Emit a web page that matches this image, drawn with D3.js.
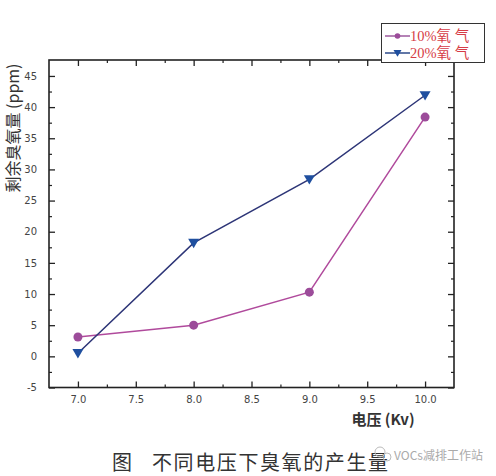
<!DOCTYPE html>
<html><head><meta charset="utf-8">
<script src="https://cdn.jsdelivr.net/npm/d3@7"></script>
<style>body{margin:0;background:#fff}svg{display:block}</style>
</head><body>
<script>
const voltages = [7.0, 8.0, 9.0, 10.0];
const ozone10 = [3.1, 5.0, 10.3, 38.4];
const ozone20 = [0.5, 18.2, 28.4, 41.9];
const seriesNames = ["10%氧 气", "20%氧 气"];
const xTicks = [7.0, 7.5, 8.0, 8.5, 9.0, 9.5, 10.0];
const yTicks = [-5, 0, 5, 10, 15, 20, 25, 30, 35, 40, 45];

const W = 496, H = 476;
const svg = d3.select("body").append("svg").attr("width", W).attr("height", H);
const L = 49, R = 454, T = 60, B = 387.5;
const x = d3.scaleLinear().domain([6.75, 10.25]).range([L, R]);
const y = d3.scaleLinear().domain([-5, 47.56]).range([B, T]);

const axisColor = "#222";
const xMinor = d3.range(7.25, 10.0, 0.5);
const yMinor = d3.range(-2.5, 47, 5);
const g = svg.append("g");
const tickFont = "'DejaVu Sans', Verdana, sans-serif";
g.append("g").attr("transform", `translate(0,${B})`)
  .call(d3.axisBottom(x).tickValues(xTicks).tickFormat(d3.format(".1f")).tickSizeInner(-6).tickSizeOuter(0).tickPadding(8))
  .call(s => { s.select(".domain").remove(); s.selectAll("line").attr("stroke", axisColor).attr("stroke-width", 1.3);
    s.selectAll("text").attr("font-family", tickFont).attr("font-size", 10).attr("fill", "#444"); });
g.append("g").attr("transform", `translate(0,${B})`)
  .call(d3.axisBottom(x).tickValues(xMinor).tickFormat("").tickSizeInner(-3).tickSizeOuter(0))
  .call(s => { s.select(".domain").remove(); s.selectAll("line").attr("stroke", axisColor).attr("stroke-width", 1.2); });
g.append("g").attr("transform", `translate(0,${T})`)
  .call(d3.axisTop(x).tickValues(xTicks).tickFormat("").tickSizeInner(-6).tickSizeOuter(0))
  .call(s => { s.select(".domain").remove(); s.selectAll("line").attr("stroke", axisColor).attr("stroke-width", 1.3); });
g.append("g").attr("transform", `translate(0,${T})`)
  .call(d3.axisTop(x).tickValues(xMinor).tickFormat("").tickSizeInner(-3).tickSizeOuter(0))
  .call(s => { s.select(".domain").remove(); s.selectAll("line").attr("stroke", axisColor).attr("stroke-width", 1.2); });
g.append("g").attr("transform", `translate(${L},0)`)
  .call(d3.axisLeft(y).tickValues(yTicks).tickFormat(d => String(d)).tickSizeInner(-6).tickSizeOuter(0).tickPadding(12))
  .call(s => { s.select(".domain").remove(); s.selectAll("line").attr("stroke", axisColor).attr("stroke-width", 1.3);
    s.selectAll("text").attr("font-family", tickFont).attr("font-size", 10).attr("fill", "#444"); });
g.append("g").attr("transform", `translate(${L},0)`)
  .call(d3.axisLeft(y).tickValues(yMinor).tickFormat("").tickSizeInner(-3).tickSizeOuter(0))
  .call(s => { s.select(".domain").remove(); s.selectAll("line").attr("stroke", axisColor).attr("stroke-width", 1.2); });
g.append("g").attr("transform", `translate(${R},0)`)
  .call(d3.axisRight(y).tickValues(yTicks).tickFormat("").tickSizeInner(-6).tickSizeOuter(0))
  .call(s => { s.select(".domain").remove(); s.selectAll("line").attr("stroke", axisColor).attr("stroke-width", 1.3); });
g.append("g").attr("transform", `translate(${R},0)`)
  .call(d3.axisRight(y).tickValues(yMinor).tickFormat("").tickSizeInner(-3).tickSizeOuter(0))
  .call(s => { s.select(".domain").remove(); s.selectAll("line").attr("stroke", axisColor).attr("stroke-width", 1.2); });
svg.append("rect").attr("x", L).attr("y", T).attr("width", R - L).attr("height", B - T)
  .attr("fill", "none").attr("stroke", axisColor).attr("stroke-width", 1.6);

const series = [
  {name: seriesNames[0], values: ozone10, line: "#b04a9c", legendLine: "#9c5a9e", marker: "#9c4c9a", shape: "circle"},
  {name: seriesNames[1], values: ozone20, line: "#2d3577", legendLine: "#2d4a8a", marker: "#1f4f9f", shape: "tri"}
];
const line = d3.line().x((d, i) => x(voltages[i])).y(d => y(d));
const triPath = (cx, cy, s) => `M${cx - s},${cy - s * 0.75}L${cx + s},${cy - s * 0.75}L${cx},${cy + s * 0.95}Z`;
series.forEach(sr => {
  svg.append("path").datum(sr.values).attr("d", line).attr("fill", "none")
    .attr("stroke", sr.line).attr("stroke-width", 1.5);
  sr.values.forEach((v, i) => {
    if (sr.shape === "circle") {
      svg.append("circle").attr("cx", x(voltages[i])).attr("cy", y(v)).attr("r", 4.5).attr("fill", sr.marker);
    } else {
      svg.append("path").attr("d", triPath(x(voltages[i]), y(v), 5.5)).attr("fill", sr.marker);
    }
  });
});

const lg = svg.append("g");
lg.append("rect").attr("x", 381.5).attr("y", 23.5).attr("width", 103).attr("height", 39)
  .attr("fill", "#fff").attr("stroke", "#333").attr("stroke-width", 1);
series.forEach((sr, i) => {
  const yy = 36 + i * 17;
  lg.append("line").attr("x1", 385).attr("x2", 410).attr("y1", yy).attr("y2", yy)
    .attr("stroke", sr.legendLine).attr("stroke-width", 1.5);
  if (sr.shape === "circle") lg.append("circle").attr("cx", 397.5).attr("cy", yy).attr("r", 2.8).attr("fill", sr.marker);
  else lg.append("path").attr("d", triPath(397.5, yy, 4)).attr("fill", sr.marker);
  lg.append("text").attr("x", 410).attr("y", yy + 5).text(sr.name)
    .attr("font-family", "'Liberation Serif', 'Noto Sans CJK SC', serif").attr("font-size", 14.5).attr("fill", "#d63c46");
});

svg.append("text").attr("transform", `translate(19,128) rotate(-90)`).attr("text-anchor", "middle")
  .attr("font-family", "'Noto Sans CJK SC', sans-serif").attr("font-size", 16).attr("fill", "#333")
  .text("剩余臭氧量 (ppm)");
svg.append("text").attr("x", 383).attr("y", 425).attr("text-anchor", "middle")
  .attr("font-family", "'Noto Sans CJK SC', serif").attr("font-size", 15).attr("font-weight", "bold").attr("fill", "#333")
  .text("电压 (Kv)");
// caption
svg.append("text").attr("x", 112).attr("y", 470)
  .attr("font-family", "'Noto Sans CJK SC', sans-serif").attr("font-size", 20).attr("fill", "#333")
  .text("图");
svg.append("text").attr("x", 152).attr("y", 470).attr("textLength", 236).attr("lengthAdjust", "spacing")
  .attr("font-family", "'Noto Sans CJK SC', sans-serif").attr("font-size", 20).attr("fill", "#333")
  .text("不同电压下臭氧的产生量");
// watermark
const wm = svg.append("g").attr("fill", "none").attr("stroke", "#bbb").attr("stroke-width", 1);
wm.append("circle").attr("cx", 380).attr("cy", 452).attr("r", 5);
wm.append("circle").attr("cx", 387).attr("cy", 457).attr("r", 4);
svg.append("text").attr("x", 394).attr("y", 460)
  .attr("font-family", "'Noto Sans CJK SC', sans-serif").attr("font-size", 12).attr("fill", "#aaa")
  .text("VOCs减排工作站");
</script>
</body></html>
